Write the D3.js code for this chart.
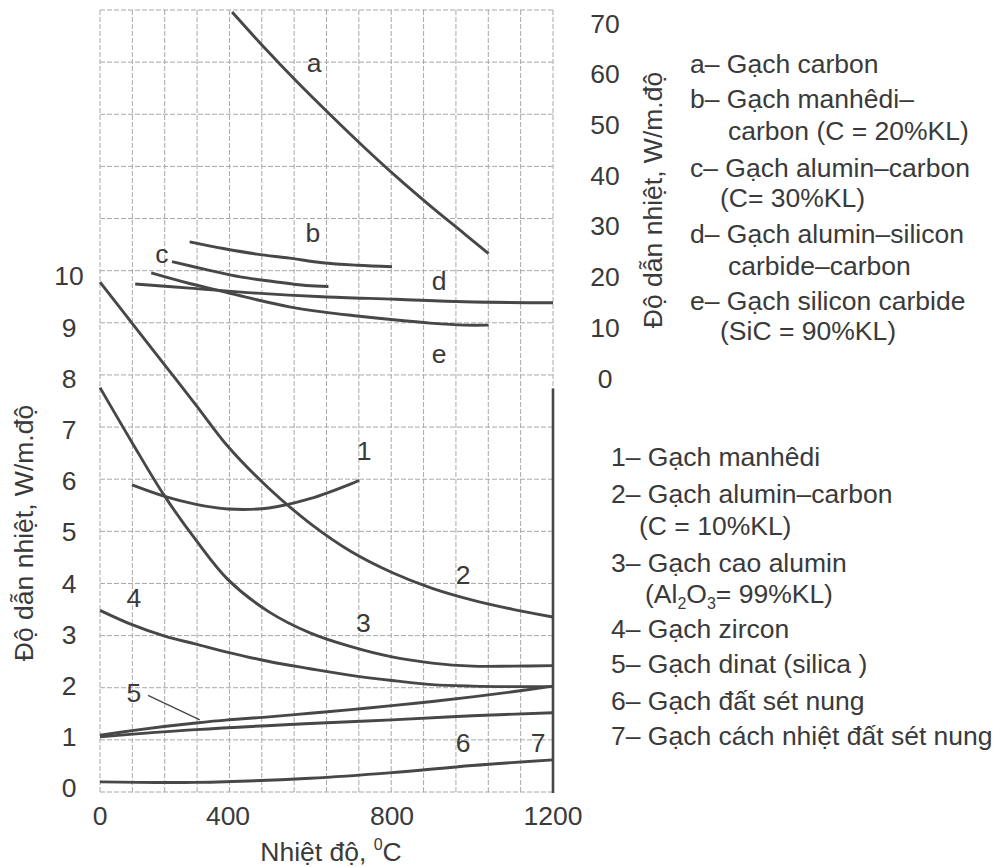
<!DOCTYPE html>
<html>
<head>
<meta charset="utf-8">
<script src="https://cdn.jsdelivr.net/npm/d3@7"></script>
<style>
  html, body { margin: 0; padding: 0; background: #fff; }
  svg { display: block; font-family: "Liberation Sans", Arial, sans-serif; }
</style>
</head>
<body>
<svg id="chart" width="997" height="867"></svg>
<script>
// ---- Axis ticks -------------------------------------------------------
const tempTicks  = [0, 400, 800, 1200];          // °C, shared by both panels
const lowerTicks = d3.range(0, 11);              // W/m.độ, left axis
const upperTicks = d3.range(0, 80, 10);          // W/m.độ, right axis

// ---- Upper panel series: [temperature °C, conductivity W/m.độ] -------
const gachCarbon = [[410, 72.2], [485, 65.5], [570, 58.3], [650, 51.9], [730, 45.7],
                    [810, 39.8], [895, 34.0], [980, 28.5], [1040, 24.6]];
const manhediCarbon = [[280, 26.9], [385, 25.6], [470, 24.5], [550, 23.7],
                       [630, 22.8], [715, 22.3], [800, 22.0]];
const aluminCarbon30 = [[225, 23.0], [335, 21.4], [430, 20.0], [510, 19.1],
                        [590, 18.3], [645, 18.1]];
const aluminSiCCarbon = [[110, 18.6], [280, 17.8], [470, 16.8], [630, 16.1],
                         [810, 15.6], [980, 15.1], [1200, 14.9]];
const siliconCarbide = [[160, 20.8], [280, 18.7], [385, 17.1], [470, 15.5], [550, 14.1],
                        [630, 13.1], [715, 12.3], [810, 11.5], [895, 10.9], [980, 10.5], [1040, 10.5]];

// ---- Lower panel series ---------------------------------------------
const manhedi = [[100, 5.92], [200, 5.70], [300, 5.54], [400, 5.45], [500, 5.47],
                 [600, 5.65], [700, 5.94], [720, 6.01]];
const aluminCarbon10 = [[0, 9.88], [100, 9.08], [200, 8.28], [300, 7.48], [400, 6.67],
                        [500, 5.85], [600, 5.17], [700, 4.62], [800, 4.21], [900, 3.90],
                        [1000, 3.67], [1100, 3.49], [1200, 3.34]];
const caoAlumin = [[0, 7.82], [100, 6.75], [200, 5.72], [300, 4.84], [400, 4.07],
                   [500, 3.44], [600, 3.03], [700, 2.76], [800, 2.56], [900, 2.44],
                   [1000, 2.38], [1100, 2.38], [1200, 2.39]];
const zircon = [[0, 3.47], [100, 3.19], [200, 2.97], [300, 2.81], [400, 2.65],
                [500, 2.47], [600, 2.33], [700, 2.2], [800, 2.1], [900, 2.02],
                [1000, 1.99], [1100, 1.98], [1200, 1.98]];
const dinat = [[0, 1.03], [100, 1.12], [200, 1.2], [300, 1.27], [400, 1.33], [500, 1.39],
               [600, 1.46], [700, 1.53], [800, 1.61], [900, 1.69], [1000, 1.78],
               [1100, 1.88], [1200, 1.99]];
const datSetNung = [[0, 1.0], [300, 1.14], [600, 1.26], [800, 1.33], [1000, 1.41], [1200, 1.47]];
const cachNhiet = [[0, 0.12], [300, 0.11], [600, 0.19], [800, 0.3], [1000, 0.44], [1200, 0.55]];

// ---- Curve tags placed in data units ---------------------------------
const upperTags = [
  { text: "a", t: 610, v: 60.3 }, { text: "b", t: 607, v: 26.9 },
  { text: "c", t: 193, v: 22.7 }, { text: "d", t: 917, v: 17.4 },
  { text: "e", t: 917, v: 3.0 }
];
const lowerTags = [
  { text: "1", t: 732, v: 6.40 }, { text: "2", t: 977, v: 3.99 },
  { text: "3", t: 730, v: 3.05 }, { text: "4", t: 106, v: 3.54 },
  { text: "5", t: 106, v: 1.68 }, { text: "6", t: 977, v: 0.71 },
  { text: "7", t: 1163, v: 0.71 }
];
const dinatPointer = [[150, 1.81], [312, 1.33]];

// ---- Legend texts ----------------------------------------------------
const upperLegend = [
  "a– Gạch carbon", "b– Gạch manhêdi–", "carbon (C = 20%KL)",
  "c– Gạch alumin–carbon", "(C= 30%KL)", "d– Gạch alumin–silicon",
  "carbide–carbon", "e– Gạch silicon carbide", "(SiC = 90%KL)"
];
const lowerLegend = [
  "1– Gạch manhêdi", "2– Gạch alumin–carbon", "(C = 10%KL)",
  "3– Gạch cao alumin", "AL2O3", "4– Gạch zircon",
  "5– Gạch dinat (silica )", "6– Gạch đất sét nung", "7– Gạch cách nhiệt đất sét nung"
];

// ---- Layout ------------------------------------------------------------
const INK = "#3a3a3a";
const LINE = "#474747";
const FS = 26.5;

const svg = d3.select("#chart");

const x = d3.scaleLinear().domain(tempTicks).range([100, 228, 392, 553]);
const yLow = d3.scaleLinear().domain([0, 10]).range([788, 276]);
const yUp = d3.scaleLinear().domain([0, 70]).range([378.4, 23.2]);

// graph-paper grid behind both panels
const paperX = d3.scaleLinear().domain([0, 14]).range([100, 553]);
const paperY = d3.scaleLinear().domain([0, 15]).range([792, 10]);
const grid = svg.append("g")
  .attr("stroke", "#a8a8a8").attr("stroke-width", 1).attr("stroke-dasharray", "5,2");
grid.selectAll("line.v").data(d3.range(0, 15)).join("line").attr("class", "v")
  .attr("x1", d => paperX(d)).attr("x2", d => paperX(d))
  .attr("y1", paperY(15)).attr("y2", paperY(0));
grid.selectAll("line.h").data(d3.range(0, 16)).join("line").attr("class", "h")
  .attr("y1", d => paperY(d)).attr("y2", d => paperY(d))
  .attr("x1", paperX(0)).attr("x2", paperX(14));

// solid right border of the lower panel
svg.append("line")
  .attr("x1", x(1200)).attr("x2", x(1200))
  .attr("y1", yUp(0) + 10).attr("y2", paperY(0) + 1)
  .attr("stroke", LINE).attr("stroke-width", 2.6);

// curves
const smooth = d3.curveCatmullRom.alpha(0.5);
const lineUp = d3.line().x(d => x(d[0])).y(d => yUp(d[1])).curve(smooth);
const lineLow = d3.line().x(d => x(d[0])).y(d => yLow(d[1])).curve(smooth);
const curves = svg.append("g").attr("fill", "none").attr("stroke", LINE)
  .attr("stroke-width", 2.9).attr("stroke-linecap", "butt");
[gachCarbon, manhediCarbon, aluminCarbon30, aluminSiCCarbon, siliconCarbide]
  .forEach(s => curves.append("path").attr("d", lineUp(s)));
[manhedi, aluminCarbon10, caoAlumin, zircon, dinat, datSetNung, cachNhiet]
  .forEach(s => curves.append("path").attr("d", lineLow(s)));

// pointer from tag "5" to its curve
const pointer = d3.line().x(d => x(d[0])).y(d => yLow(d[1]));
svg.append("path").attr("d", pointer(dinatPointer))
  .attr("stroke", LINE).attr("stroke-width", 1.4).attr("fill", "none");

const txt = svg.append("g").attr("fill", INK).attr("font-size", FS);

// curve tags
txt.selectAll("text.ut").data(upperTags).join("text").attr("class", "ut")
  .attr("x", d => x(d.t)).attr("y", d => yUp(d.v)).attr("text-anchor", "middle")
  .text(d => d.text);
txt.selectAll("text.lt").data(lowerTags).join("text").attr("class", "lt")
  .attr("x", d => x(d.t)).attr("y", d => yLow(d.v)).attr("text-anchor", "middle")
  .text(d => d.text);

// tick labels
txt.selectAll("text.xt").data(tempTicks).join("text").attr("class", "xt")
  .attr("x", d => x(d)).attr("y", 825).attr("text-anchor", "middle").text(d => d);
txt.selectAll("text.yl").data(lowerTicks).join("text").attr("class", "yl")
  .attr("x", 69).attr("y", d => yLow(d) + 9.3).attr("text-anchor", "middle").text(d => d);
txt.selectAll("text.yu").data(upperTicks).join("text").attr("class", "yu")
  .attr("x", 605).attr("y", d => yUp(d) + 9.3).attr("text-anchor", "middle").text(d => d);

// axis titles
txt.append("text").attr("transform", "translate(33,533) rotate(-90)")
  .attr("text-anchor", "middle").text("Độ dẫn nhiệt, W/m.độ");
txt.append("text").attr("transform", "translate(662,200) rotate(-90)")
  .attr("text-anchor", "middle").text("Độ dẫn nhiệt, W/m.độ");
const xt = txt.append("text").attr("x", 331).attr("y", 861).attr("text-anchor", "middle");
xt.append("tspan").text("Nhiệt độ, ");
xt.append("tspan").attr("font-size", 16).attr("dy", -11).text("0");
xt.append("tspan").attr("dy", 11).text("C");

// legends
const upperPos = [[690, 73], [690, 108], [728, 140], [690, 177], [720, 207],
                  [690, 243], [728, 275], [690, 310], [720, 340]];
upperLegend.forEach((s, i) => {
  txt.append("text").attr("x", upperPos[i][0]).attr("y", upperPos[i][1]).text(s);
});
const lowerPos = [[611, 466], [611, 503], [639, 535], [611, 572], [645, 603],
                  [611, 638], [611, 673], [611, 710], [611, 745]];
lowerLegend.forEach((s, i) => {
  const t = txt.append("text").attr("x", lowerPos[i][0]).attr("y", lowerPos[i][1]);
  if (s === "AL2O3") {
    t.append("tspan").text("(Al");
    t.append("tspan").attr("font-size", 16).attr("dy", 6).text("2");
    t.append("tspan").attr("dy", -6).text("O");
    t.append("tspan").attr("font-size", 16).attr("dy", 6).text("3");
    t.append("tspan").attr("dy", -6).text("= 99%KL)");
  } else {
    t.text(s);
  }
});
</script>
</body>
</html>
